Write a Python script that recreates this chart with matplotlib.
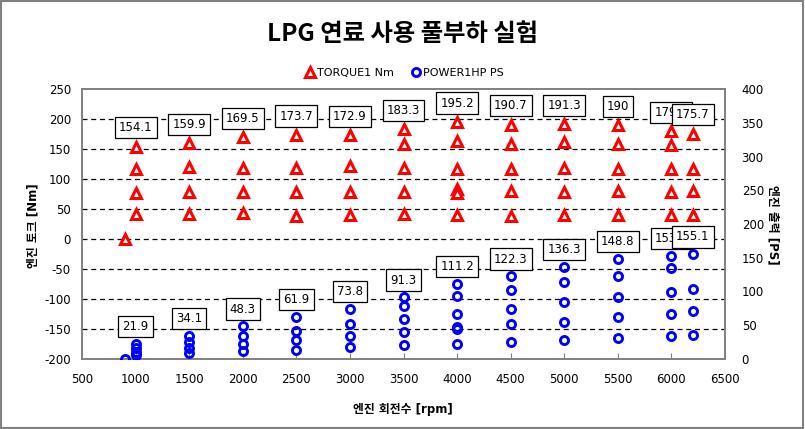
import matplotlib
matplotlib.use("Agg")
import matplotlib.pyplot as plt
from matplotlib.patches import Rectangle

plt.rcParams['font.family'] = ['DejaVu Sans', 'Noto Sans CJK KR']  # 한글깨짐방지용
plt.rcParams['axes.unicode_minus'] = False

rpm = [900, 1000, 1500, 2000, 2500, 3000, 3500, 4000, 4500, 5000, 5500, 6000, 6200]
torque = [
    [0],
    [154.1, 116, 77, 42],
    [159.9, 120, 78, 41],
    [169.5, 119, 79, 43],
    [173.7, 118, 79, 39],
    [172.9, 121, 79, 40],
    [183.3, 158, 119, 79, 41],
    [195.2, 163, 117, 84, 77, 40],
    [190.7, 159, 116, 80, 39],
    [191.3, 161, 119, 78, 40],
    [190, 158, 117, 80, 40],
    [179.4, 157, 117, 78, 40],
    [175.7, 117, 80, 40],
]
power = [
    [0],
    [21.9, 16.5, 11.0, 6.0],
    [34.1, 25.6, 16.7, 8.8],
    [48.3, 33.9, 22.5, 12.2],
    [61.9, 42.0, 28.1, 13.9],
    [73.8, 51.7, 33.7, 17.1],
    [91.3, 78.7, 59.3, 39.4, 20.4],
    [111.2, 92.8, 66.6, 47.8, 43.9, 22.8],
    [122.3, 101.9, 74.3, 51.3, 25.0],
    [136.3, 114.6, 84.7, 55.5, 28.5],
    [148.8, 123.7, 91.6, 62.7, 31.3],
    [153.3, 134.1, 100.0, 66.6, 34.2],
    [155.1, 103.3, 70.6, 35.3],
]

# 데이터 레이블 (최대값)
label_rpm = [1000, 1500, 2000, 2500, 3000, 3500, 4000, 4500, 5000, 5500, 6000, 6200]
torque_label = [154.1, 159.9, 169.5, 173.7, 172.9, 183.3, 195.2, 190.7, 191.3, 190, 179.4, 175.7]
power_label = [21.9, 34.1, 48.3, 61.9, 73.8, 91.3, 111.2, 122.3, 136.3, 148.8, 153.3, 155.1]

tx = [r for r, vals in zip(rpm, torque) for v in vals]
ty = [v for vals in torque for v in vals]
px = [r for r, vals in zip(rpm, power) for v in vals]
py = [v for vals in power for v in vals]

fig = plt.figure(figsize=(8.05, 4.29), dpi=100)
W, H = 805, 429
ax = fig.add_axes([82 / W, 1 - 359 / H, (725 - 82) / W, (359 - 89) / H])
ax2 = ax.twinx()

l1, = ax.plot(tx, ty, linestyle='none', marker='^', ms=7.5, mew=2.2,
              mfc='white', mec='#FF0000', label='TORQUE1 Nm', zorder=3)
l2, = ax2.plot(px, py, linestyle='none', marker='o', ms=5.8, mew=2.1,
               mfc='none', mec='#0000FF', label='POWER1HP PS', zorder=3)

box = dict(boxstyle='square,pad=0.35', fc='white', ec='black', lw=0.9)
for r, v in zip(label_rpm, torque_label):
    ax.annotate(f"{v:g}", (r, v), xytext=(0, 13.5), textcoords='offset points',
                ha='center', va='center', fontsize=8.5, bbox=box, zorder=5)
for r, v in zip(label_rpm, power_label):
    ax2.annotate(f"{v:g}", (r, v), xytext=(0, 12.5), textcoords='offset points',
                 ha='center', va='center', fontsize=8.5, bbox=box, zorder=5)

ax.set_xlim(500, 6500)
ax.set_ylim(-200, 250)
ax2.set_ylim(0, 400)
ax.set_xticks(range(500, 6501, 500))
ax.set_yticks(range(-200, 251, 50))
ax2.set_yticks(range(0, 401, 50))

# 격자 (-150 ~ 200)
for g in range(-150, 201, 50):
    ax.axhline(g, color='black', lw=0.9, ls=(0, (4, 3)), zorder=1)

for a in (ax, ax2):
    for s in a.spines.values():
        s.set_color('#808080')
        s.set_linewidth(1.2)
ax.tick_params(axis='x', direction='in', length=4, color='#808080', labelsize=8.5, pad=10)
ax.tick_params(axis='y', length=0, labelsize=8.5, pad=8)
ax2.tick_params(axis='y', length=0, labelsize=8.5, pad=12)

fig.text(0.5, 1 - 34 / H, 'LPG 연료 사용 풀부하 실험', ha='center', va='center',
         fontsize=17.5, fontweight='bold', family=['Noto Sans CJK KR'])
fig.text(33 / W, 1 - 226 / H, '엔진 토크 [Nm]', rotation=90, ha='center', va='center',
         fontsize=8.5, fontweight='bold')
fig.text(773 / W, 1 - 225 / H, '엔진 출력 [PS]', rotation=-90, ha='center', va='center',
         fontsize=8.5, fontweight='bold')
fig.text(403 / W, 1 - 409 / H, '엔진 회전수 [rpm]', ha='center', va='center',
         fontsize=8.5, fontweight='bold')

fig.legend(handles=[l1, l2], loc='center', bbox_to_anchor=(404 / W, 1 - 73 / H),
           ncol=2, frameon=False, fontsize=8, handletextpad=0.1, columnspacing=1.5,
           handlelength=1.0)

fig.patches.append(Rectangle((0.001, 0.002), 0.997, 0.996, transform=fig.transFigure,
                             fill=False, ec='#808080', lw=1.5))

fig.savefig('out.png', dpi=100)
